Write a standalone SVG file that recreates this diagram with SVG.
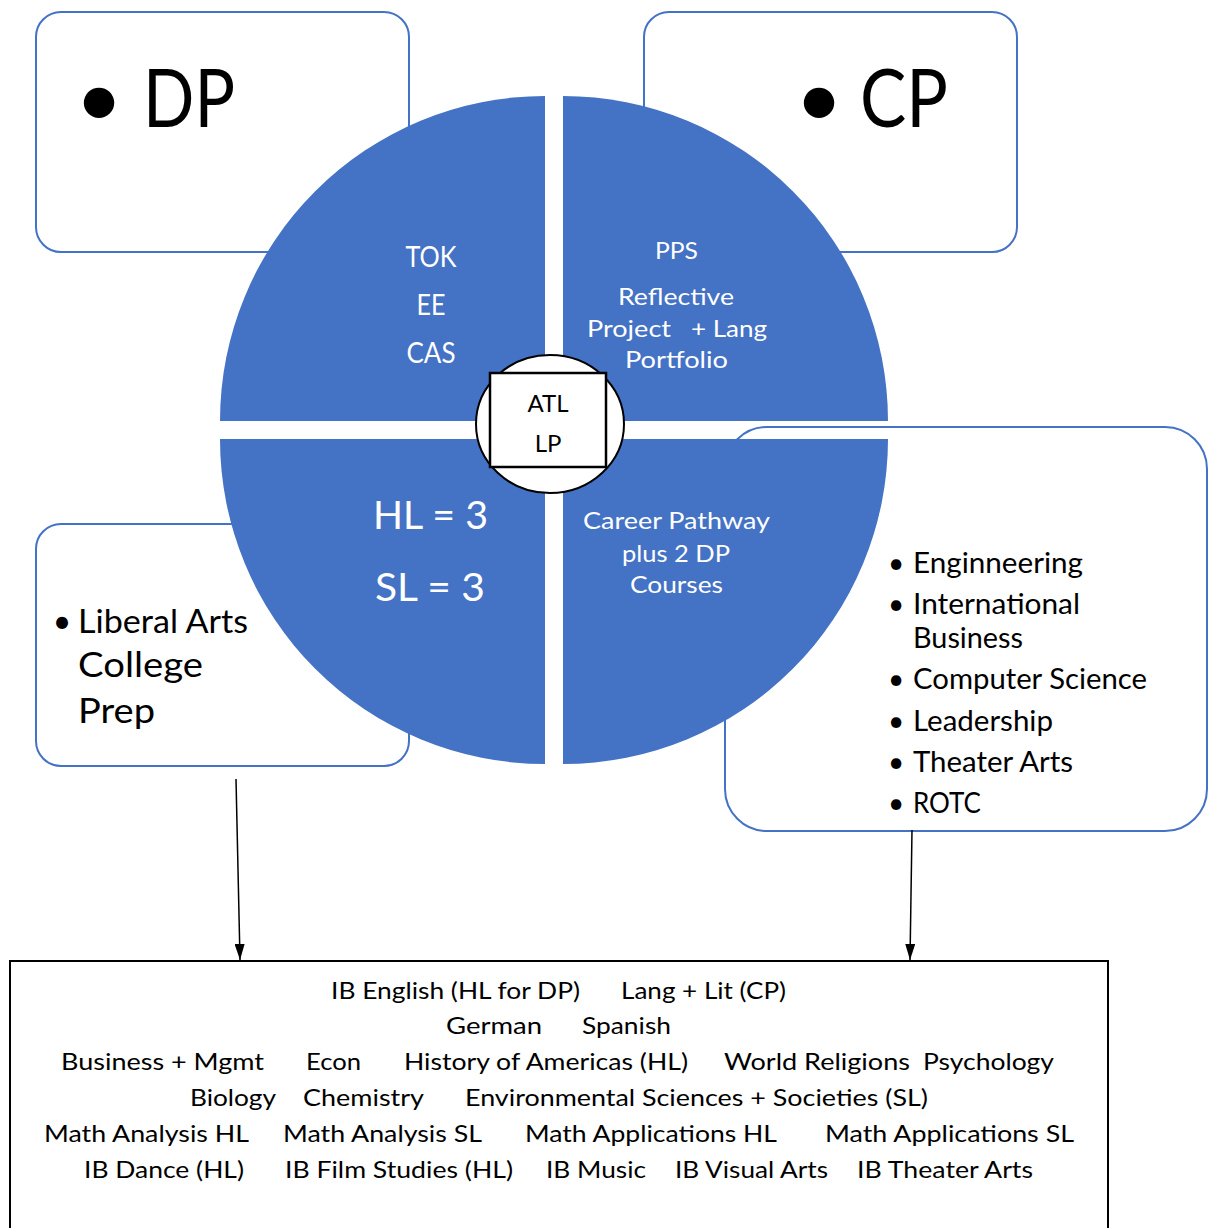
<svg xmlns="http://www.w3.org/2000/svg" width="1209" height="1228" viewBox="0 0 1209 1228">
<style>
text{font-family:Lato,"Open Sans","Noto Sans",sans-serif;fill:#000}
.box{fill:#fff;stroke:#4472C4;stroke-width:2}
.q{fill:#4472C4}
.w{fill:#fff}
.big{font-size:82px}
.qa{font-size:28px;text-anchor:middle}
.qb{font-size:24px}
.hl{font-size:39px}
.li{font-size:28px}
.bot{font-size:23px}
.mid{text-anchor:middle}
.con{stroke:#000;stroke-width:1.5;fill:none}
</style>
<defs>
<marker id="arr" viewBox="0 0 16 10" refX="16" refY="5" markerWidth="16" markerHeight="10" markerUnits="userSpaceOnUse" orient="auto">
<path d="M0,0 L16,5 L0,10 Z" fill="#000"/>
</marker>
</defs>

<g id="dp-box">
<rect class="box" x="36" y="12" width="373" height="240" rx="25"/>
<text class="big"><tspan x="99" y="127" text-anchor="middle">•</tspan><tspan x="143" y="127" textLength="92" lengthAdjust="spacingAndGlyphs">DP</tspan></text>
</g>

<g id="cp-box">
<rect class="box" x="644" y="12" width="373" height="240" rx="25"/>
<text class="big"><tspan x="819" y="127" text-anchor="middle">•</tspan><tspan x="860" y="127" textLength="88" lengthAdjust="spacingAndGlyphs">CP</tspan></text>
</g>

<g id="liberal-box">
<rect class="box" x="36" y="524" width="373" height="242" rx="25"/>
<text x="62" y="633" font-size="32" text-anchor="middle">•</text>
<text x="78" y="633" font-size="32" textLength="170" lengthAdjust="spacingAndGlyphs">Liberal Arts</text>
<text x="78" y="677" font-size="35" textLength="125" lengthAdjust="spacingAndGlyphs">College</text>
<text x="78" y="723" font-size="35" textLength="77" lengthAdjust="spacingAndGlyphs">Prep</text>
</g>

<g id="career-box">
<rect class="box" x="725" y="427" width="482" height="404" rx="42"/>
<g class="li">
<text x="896" y="573" text-anchor="middle">•</text>
<text x="913" y="573" textLength="170" lengthAdjust="spacingAndGlyphs">Enginneering</text>
<text x="896" y="614" text-anchor="middle">•</text>
<text x="913" y="614" textLength="167" lengthAdjust="spacingAndGlyphs">International</text>
<text x="913" y="648" textLength="110" lengthAdjust="spacingAndGlyphs">Business</text>
<text x="896" y="689" text-anchor="middle">•</text>
<text x="913" y="689" textLength="234" lengthAdjust="spacingAndGlyphs">Computer Science</text>
<text x="896" y="731" text-anchor="middle">•</text>
<text x="913" y="731" textLength="140" lengthAdjust="spacingAndGlyphs">Leadership</text>
<text x="896" y="772" text-anchor="middle">•</text>
<text x="913" y="772" textLength="160" lengthAdjust="spacingAndGlyphs">Theater Arts</text>
<text x="896" y="813" text-anchor="middle">•</text>
<text x="913" y="813" textLength="68" lengthAdjust="spacingAndGlyphs">ROTC</text>
</g>
</g>

<g id="q-core">
<path class="q" d="M545,421 L220,421 A325,325 0 0 1 545,96 Z"/>
<text class="qa w" x="431" y="267" textLength="51" lengthAdjust="spacingAndGlyphs">TOK</text>
<text class="qa w" x="431" y="315" textLength="29" lengthAdjust="spacingAndGlyphs">EE</text>
<text class="qa w" x="431" y="363" textLength="49" lengthAdjust="spacingAndGlyphs">CAS</text>
</g>

<g id="q-cp">
<path class="q" d="M563,421 L563,96 A325,325 0 0 1 888,421 Z"/>
<g class="qb">
<text class="w" x="655" y="259" textLength="43" lengthAdjust="spacingAndGlyphs">PPS</text>
<text class="w" x="618" y="305" textLength="116" lengthAdjust="spacingAndGlyphs">Reflective</text>
<text class="w" x="587" y="337" textLength="84" lengthAdjust="spacingAndGlyphs">Project</text>
<text class="w" x="691" y="337" textLength="76" lengthAdjust="spacingAndGlyphs">+ Lang</text>
<text class="w" x="625" y="368" textLength="103" lengthAdjust="spacingAndGlyphs">Portfolio</text>
</g>
</g>

<g id="q-courses">
<path class="q" d="M545,439 L545,764 A325,325 0 0 1 220,439 Z"/>
<text class="hl w" x="373" y="529" textLength="115" lengthAdjust="spacingAndGlyphs">HL = 3</text>
<text class="hl w" x="375" y="601" textLength="110" lengthAdjust="spacingAndGlyphs">SL = 3</text>
</g>

<g id="q-career">
<path class="q" d="M563,439 L888,439 A325,325 0 0 1 563,764 Z"/>
<g class="qb">
<text class="w" x="583" y="529" textLength="187" lengthAdjust="spacingAndGlyphs">Career Pathway</text>
<text class="w" x="622" y="562" textLength="108" lengthAdjust="spacingAndGlyphs">plus 2 DP</text>
<text class="w" x="630" y="593" textLength="93" lengthAdjust="spacingAndGlyphs">Courses</text>
</g>
</g>

<g id="center">
<ellipse cx="550" cy="424" rx="74" ry="69" fill="#fff" stroke="#000" stroke-width="2"/>
<rect x="490" y="373" width="116" height="94" fill="#fff" stroke="#000" stroke-width="2.5"/>
<text x="548" y="412" font-size="24" class="mid">ATL</text>
<text x="548" y="452" font-size="24" class="mid">LP</text>
</g>

<g id="courses-box">
<rect x="10" y="961" width="1098" height="300" fill="#fff" stroke="#000" stroke-width="2"/>
<g class="bot">
<text x="331" y="999" textLength="249" lengthAdjust="spacingAndGlyphs">IB English (HL for DP)</text>
<text x="621" y="999" textLength="165" lengthAdjust="spacingAndGlyphs">Lang + Lit (CP)</text>
<text x="446" y="1034" textLength="96" lengthAdjust="spacingAndGlyphs">German</text>
<text x="582" y="1034" textLength="89" lengthAdjust="spacingAndGlyphs">Spanish</text>
<text x="61" y="1070" textLength="203" lengthAdjust="spacingAndGlyphs">Business + Mgmt</text>
<text x="306" y="1070" textLength="55" lengthAdjust="spacingAndGlyphs">Econ</text>
<text x="404" y="1070" textLength="284" lengthAdjust="spacingAndGlyphs">History of Americas (HL)</text>
<text x="724" y="1070" textLength="186" lengthAdjust="spacingAndGlyphs">World Religions</text>
<text x="923" y="1070" textLength="131" lengthAdjust="spacingAndGlyphs">Psychology</text>
<text x="190" y="1106" textLength="86" lengthAdjust="spacingAndGlyphs">Biology</text>
<text x="303" y="1106" textLength="121" lengthAdjust="spacingAndGlyphs">Chemistry</text>
<text x="465" y="1106" textLength="463" lengthAdjust="spacingAndGlyphs">Environmental Sciences + Societies (SL)</text>
<text x="44" y="1142" textLength="205" lengthAdjust="spacingAndGlyphs">Math Analysis HL</text>
<text x="283" y="1142" textLength="199" lengthAdjust="spacingAndGlyphs">Math Analysis SL</text>
<text x="525" y="1142" textLength="252" lengthAdjust="spacingAndGlyphs">Math Applications HL</text>
<text x="825" y="1142" textLength="249" lengthAdjust="spacingAndGlyphs">Math Applications SL</text>
<text x="84" y="1178" textLength="160" lengthAdjust="spacingAndGlyphs">IB Dance (HL)</text>
<text x="285" y="1178" textLength="228" lengthAdjust="spacingAndGlyphs">IB Film Studies (HL)</text>
<text x="546" y="1178" textLength="100" lengthAdjust="spacingAndGlyphs">IB Music</text>
<text x="675" y="1178" textLength="153" lengthAdjust="spacingAndGlyphs">IB Visual Arts</text>
<text x="857" y="1178" textLength="176" lengthAdjust="spacingAndGlyphs">IB Theater Arts</text>
</g>
</g>

<g id="connectors">
<line class="con" x1="236" y1="779" x2="240" y2="960" marker-end="url(#arr)"/>
<line class="con" x1="912" y1="830" x2="910" y2="960" marker-end="url(#arr)"/>
</g>
</svg>
